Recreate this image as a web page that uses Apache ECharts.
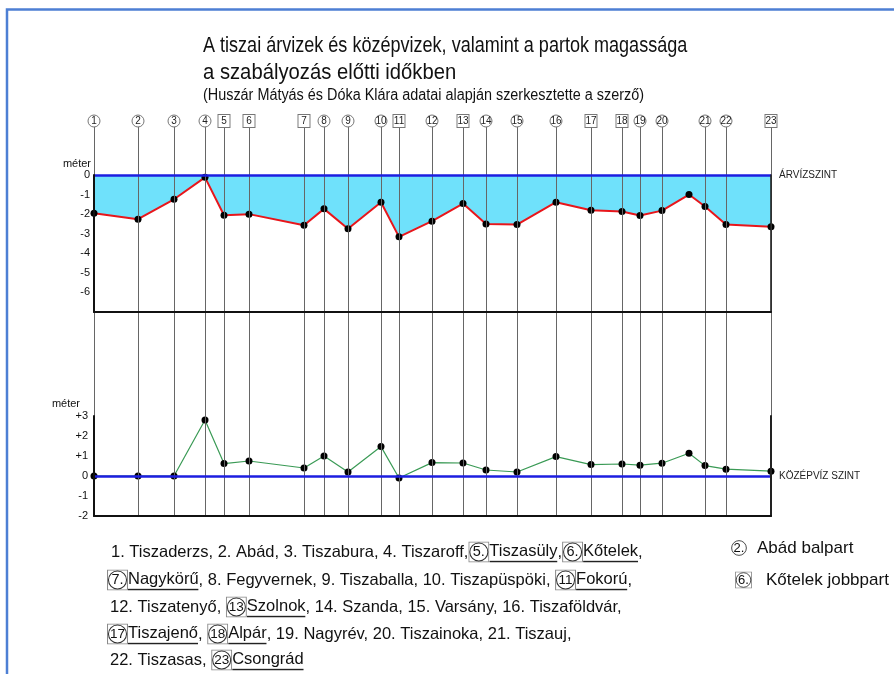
<!DOCTYPE html>
<html>
<head>
<meta charset="utf-8">
<script src="https://cdn.jsdelivr.net/npm/echarts@6/dist/echarts.min.js"></script>
<style>
  html, body { margin: 0; padding: 0; background: #fff; }
  #chart { width: 894px; height: 674px; }
</style>
</head>
<body>
<div id="chart"></div>
<script>
// Stations along the Tisza (numbered as in the list below the profile)
const stationNo = [1, 2, 3, 4, 5, 6, 7, 8, 9, 10, 11, 12, 13, 14, 15, 16, 17, 18, 19, 20, 21, 22, 23];
// relative position of each station along the profile
const stationPos = [0, 44, 80, 111, 130, 155, 210, 230, 254, 287, 305, 338, 369, 392, 423, 462, 497, 528, 546, 568, 611, 632, 677];
// bank: 'bal' = left bank (circle), 'jobb' = right bank (square)
const stationBank = ['bal', 'bal', 'bal', 'bal', 'jobb', 'jobb', 'jobb', 'bal', 'bal', 'bal', 'jobb', 'bal',
  'jobb', 'bal', 'bal', 'bal', 'jobb', 'jobb', 'bal', 'bal', 'bal', 'bal', 'jobb'];

// profile points (one extra measured point between stations 20 and 21)
const profilePos = [0, 44, 80, 111, 130, 155, 210, 230, 254, 287, 305, 338, 369, 392, 423, 462, 497, 528, 546, 568, 595, 611, 632, 677];
// bank height below the flood level (m)
const floodDepth = [-1.95, -2.26, -1.24, -0.12, -2.06, -2.0, -2.57, -1.73, -2.75, -1.39, -3.16, -2.36, -1.46,
  -2.5, -2.53, -1.39, -1.8, -1.87, -2.07, -1.82, -1.0, -1.61, -2.53, -2.65];
// bank height above the mean water level (m)
const meanLevel = [0, 0, 0, 2.8, 0.62, 0.75, 0.4, 1.0, 0.2, 1.47, -0.1, 0.67, 0.65,
  0.3, 0.2, 0.97, 0.57, 0.6, 0.54, 0.64, 1.14, 0.52, 0.34, 0.24];

const floodMin = -7, floodMax = 0;
const meanMin = -2, meanMax = 3;

const FONT = '"Liberation Sans", Arial, sans-serif';

function svgUri(s) { return 'data:image/svg+xml;charset=utf-8,' + encodeURIComponent(s); }
// circled number framed by a square
const boxCircle = svgUri('<svg xmlns="http://www.w3.org/2000/svg" width="20" height="20" viewBox="0 0 20 20" preserveAspectRatio="none">' +
  '<rect x="0.5" y="0.5" width="19" height="19" fill="none" stroke="#8a8a8a" stroke-width="1"/>' +
  '<circle cx="10" cy="10" r="8.6" fill="none" stroke="#333" stroke-width="1"/></svg>');
// circled number without frame
const circleOnly = svgUri('<svg xmlns="http://www.w3.org/2000/svg" width="20" height="20" viewBox="0 0 20 20" preserveAspectRatio="none">' +
  '<circle cx="10" cy="10" r="9.2" fill="none" stroke="#333" stroke-width="1.1"/></svg>');
// underline
const underline = svgUri('<svg xmlns="http://www.w3.org/2000/svg" width="10" height="20" viewBox="0 0 10 20" preserveAspectRatio="none">' +
  '<rect x="0" y="18.4" width="10" height="1.6" fill="#222"/></svg>');

const richStyles = {
  n1: { backgroundColor: { image: boxCircle }, width: 21, height: 21, align: 'center', fontSize: 14.5, fontFamily: FONT, color: '#111' },
  n2: { backgroundColor: { image: boxCircle }, width: 21, height: 21, align: 'center', fontSize: 13.5, fontFamily: FONT, color: '#111' },
  nl: { backgroundColor: { image: boxCircle }, width: 17, height: 17, align: 'center', fontSize: 13, fontFamily: FONT, color: '#111' },
  cl: { backgroundColor: { image: circleOnly }, width: 16, height: 16, align: 'center', fontSize: 13, fontFamily: FONT, color: '#111' },
  u: { backgroundColor: { image: underline }, padding: [1, 0, 3, 0], fontSize: 16.5, fontFamily: FONT, color: '#111' }
};

const listLines = [
  '1. Tiszaderzs, 2. Abád, 3. Tiszabura, 4. Tiszaroff,{n1|5.}{u|Tiszasüly},{n1|6.}{u|Kőtelek},',
  '{n1|7.}{u|Nagykörű}, 8. Fegyvernek, 9. Tiszaballa, 10. Tiszapüspöki, {n2|11}{u|Fokorú},',
  '12. Tiszatenyő, {n2|13}{u|Szolnok}, 14. Szanda, 15. Varsány, 16. Tiszaföldvár,',
  '{n2|17}{u|Tiszajenő}, {n2|18}{u|Alpár}, 19. Nagyrév, 20. Tiszainoka, 21. Tiszauj,',
  '22. Tiszasas, {n2|23}{u|Csongrád}'
];
const listX = [111, 107, 110, 107, 110];
const listY = [552, 580, 607, 634, 660];

const chart = echarts.init(document.getElementById('chart'), null, { renderer: 'canvas' });

const floodData = profilePos.map((x, i) => [x, floodDepth[i]]);
const meanData = profilePos.map((x, i) => [x, meanLevel[i]]);

const graphics = [
  { type: 'polyline', shape: { points: [[7, 674], [7, 9.5], [894, 9.5]] }, style: { stroke: '#4d7fd4', lineWidth: 2.5, fill: null }, z: 0 },
  { type: 'text', x: 203, y: 46, scaleX: 0.82, style: { text: 'A tiszai árvizek és középvizek, valamint a partok magassága', font: '22px ' + FONT, fill: '#111', verticalAlign: 'middle' } },
  { type: 'text', x: 203, y: 73, scaleX: 0.92, style: { text: 'a szabályozás előtti időkben', font: '22px ' + FONT, fill: '#111', verticalAlign: 'middle' } },
  { type: 'text', x: 203, y: 96, scaleX: 0.9, style: { text: '(Huszár Mátyás és Dóka Klára adatai alapján szerkesztette a szerző)', font: '16px ' + FONT, fill: '#111', verticalAlign: 'middle' } }
];
listLines.forEach((t, i) => {
  graphics.push({ type: 'text', x: listX[i], y: listY[i],
    style: { text: t, font: '16.5px ' + FONT, fill: '#111', verticalAlign: 'middle', rich: richStyles } });
});
graphics.push({ type: 'text', x: 731, y: 548, style: { text: '{cl|2.}', font: '13px ' + FONT, fill: '#111', verticalAlign: 'middle', rich: richStyles } });
graphics.push({ type: 'text', x: 757, y: 548, style: { text: 'Abád balpart', font: '17px ' + FONT, fill: '#111', verticalAlign: 'middle' } });
graphics.push({ type: 'text', x: 735, y: 580, style: { text: '{nl|6.}', font: '13px ' + FONT, fill: '#111', verticalAlign: 'middle', rich: richStyles } });
graphics.push({ type: 'text', x: 766, y: 580, style: { text: 'Kőtelek jobbpart', font: '17px ' + FONT, fill: '#111', verticalAlign: 'middle' } });

const blackAxis = { show: true, onZero: false, lineStyle: { color: '#111', width: 2 } };

chart.setOption({
  animation: false,
  backgroundColor: '#fff',
  textStyle: { fontFamily: FONT },
  graphic: graphics,
  grid: [
    { left: 94, right: 123, top: 175, height: 137 },
    { left: 94, right: 123, top: 416, height: 100 },
    { left: 94, right: 123, top: 121, height: 395 }
  ],
  xAxis: [
    { type: 'value', gridIndex: 0, min: 0, max: 677, position: 'bottom', axisLine: blackAxis,
      axisTick: { show: false }, axisLabel: { show: false }, splitLine: { show: false }, z: 6 },
    { type: 'value', gridIndex: 1, min: 0, max: 677, position: 'bottom', axisLine: blackAxis,
      axisTick: { show: false }, axisLabel: { show: false }, splitLine: { show: false }, z: 6 },
    { type: 'value', gridIndex: 2, min: 0, max: 677, show: false }
  ],
  yAxis: [
    { type: 'value', gridIndex: 0, min: floodMin, max: floodMax, interval: 1, position: 'left',
      axisLine: blackAxis, axisTick: { show: false }, splitLine: { show: false },
      axisLabel: { margin: 4, fontSize: 11, color: '#111', formatter: v => (v === floodMin ? '' : String(v)) },
      name: 'méter', nameLocation: 'end', nameGap: 10,
      nameTextStyle: { fontSize: 11, color: '#111', align: 'right', verticalAlign: 'middle', padding: [0, 3, 0, 0] }, z: 6 },
    { type: 'value', gridIndex: 0, min: floodMin, max: floodMax, interval: 1, position: 'right',
      axisLine: { show: true, onZero: false, lineStyle: { color: '#222', width: 1.6 } }, axisTick: { show: false },
      axisLabel: { show: false }, splitLine: { show: false }, z: 6 },
    { type: 'value', gridIndex: 1, min: meanMin, max: meanMax, interval: 1, position: 'left',
      axisLine: blackAxis, axisTick: { show: false }, splitLine: { show: false },
      axisLabel: { margin: 6, fontSize: 11, color: '#111', formatter: v => (v > 0 ? '+' + v : String(v)) },
      name: 'méter', nameLocation: 'end', nameGap: 12,
      nameTextStyle: { fontSize: 11, color: '#111', align: 'right', verticalAlign: 'middle', padding: [0, 14, 0, 0] }, z: 6 },
    { type: 'value', gridIndex: 1, min: meanMin, max: meanMax, interval: 1, position: 'right',
      axisLine: { show: true, onZero: false, lineStyle: { color: '#222', width: 2 } }, axisTick: { show: false },
      axisLabel: { show: false }, splitLine: { show: false }, z: 6 },
    { type: 'value', gridIndex: 2, min: 0, max: 1, show: false }
  ],
  series: [
    // flooded band between the flood level and the bank
    { type: 'line', xAxisIndex: 0, yAxisIndex: 0, data: floodData, symbol: 'none', silent: true,
      lineStyle: { width: 0 }, areaStyle: { color: '#6fe1fb', opacity: 1, origin: 'end' }, z: 1 },
    // station verticals, running from the marker down through both panels
    { type: 'line', xAxisIndex: 2, yAxisIndex: 4, data: stationPos.map(p => [p, 0]), symbol: 'none', silent: true,
      lineStyle: { opacity: 0 }, z: 2,
      markLine: { silent: true, symbol: 'none', label: { show: false },
        lineStyle: { color: '#666', width: 1, type: 'solid' },
        data: stationPos.map(p => ({ xAxis: p })) } },
    // bank profile below flood level
    { type: 'line', xAxisIndex: 0, yAxisIndex: 0, data: floodData, symbol: 'circle', symbolSize: 7,
      itemStyle: { color: '#000' }, lineStyle: { color: '#e8161b', width: 2 }, z: 4,
      markLine: { silent: true, symbol: 'none', data: [{ yAxis: 0 }],
        lineStyle: { color: '#1c1ee0', width: 2.5, type: 'solid' },
        label: { position: 'end', distance: 8, formatter: 'ÁRVÍZSZINT', fontSize: 10, color: '#222' } } },
    // bank profile above mean water level
    { type: 'line', xAxisIndex: 1, yAxisIndex: 2, data: meanData, symbol: 'circle', symbolSize: 7,
      itemStyle: { color: '#000' }, lineStyle: { color: '#3a9a55', width: 1.2 }, z: 4,
      markLine: { silent: true, symbol: 'none', data: [{ yAxis: 0 }],
        lineStyle: { color: '#1c1ee0', width: 2.5, type: 'solid' },
        label: { position: 'end', distance: 8, formatter: 'KÖZÉPVÍZ SZINT', fontSize: 10, color: '#222' } } },
    // station markers
    { type: 'scatter', xAxisIndex: 2, yAxisIndex: 4, z: 5, silent: true,
      data: stationPos.map((p, i) => ({
        value: [p, 1],
        symbol: stationBank[i] === 'jobb' ? 'rect' : 'circle',
        symbolSize: stationBank[i] === 'jobb' ? [12, 13] : 12
      })),
      itemStyle: { color: '#fff', borderColor: '#777', borderWidth: 1, opacity: 1 },
      label: { show: true, position: 'inside', fontSize: 10, color: '#222',
        formatter: p => String(stationNo[p.dataIndex]) } }
  ]
});
</script>
</body>
</html>
